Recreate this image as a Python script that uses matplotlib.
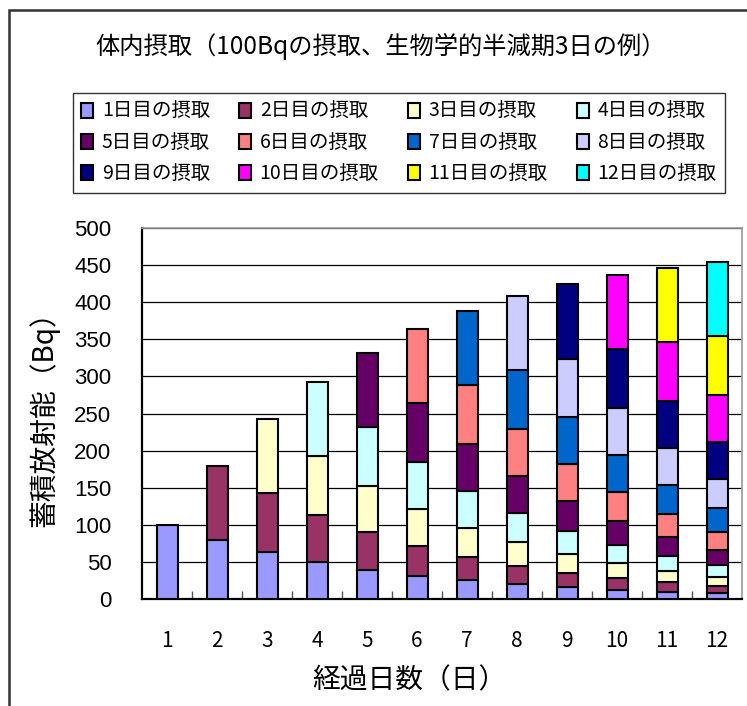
import matplotlib
matplotlib.use("Agg")
import matplotlib.pyplot as plt
from matplotlib.patches import Rectangle, Patch
import numpy as np

plt.rcParams['font.family'] = ['Noto Sans CJK JP', 'DejaVu Sans']

days = ['1', '2', '3', '4', '5', '6', '7', '8', '9', '10', '11', '12']
series_names = ['1日目の摂取', '2日目の摂取', '3日目の摂取', '4日目の摂取',
                '5日目の摂取', '6日目の摂取', '7日目の摂取', '8日目の摂取',
                '9日目の摂取', '10日目の摂取', '11日目の摂取', '12日目の摂取']
colors = ['#9999FF', '#993366', '#FFFFCC', '#CCFFFF', '#660066', '#FF8080',
          '#0066CC', '#CCCCFF', '#000080', '#FF00FF', '#FFFF00', '#00FFFF']

intake1 = [100, 79.4, 63.0, 50.0, 39.7, 31.5, 25.0, 19.8, 15.7, 12.5, 9.9, 7.9]
intake2 = [0, 100, 79.4, 63.0, 50.0, 39.7, 31.5, 25.0, 19.8, 15.7, 12.5, 9.9]
intake3 = [0, 0, 100, 79.4, 63.0, 50.0, 39.7, 31.5, 25.0, 19.8, 15.7, 12.5]
intake4 = [0, 0, 0, 100, 79.4, 63.0, 50.0, 39.7, 31.5, 25.0, 19.8, 15.7]
intake5 = [0, 0, 0, 0, 100, 79.4, 63.0, 50.0, 39.7, 31.5, 25.0, 19.8]
intake6 = [0, 0, 0, 0, 0, 100, 79.4, 63.0, 50.0, 39.7, 31.5, 25.0]
intake7 = [0, 0, 0, 0, 0, 0, 100, 79.4, 63.0, 50.0, 39.7, 31.5]
intake8 = [0, 0, 0, 0, 0, 0, 0, 100, 79.4, 63.0, 50.0, 39.7]
intake9 = [0, 0, 0, 0, 0, 0, 0, 0, 100, 79.4, 63.0, 50.0]
intake10 = [0, 0, 0, 0, 0, 0, 0, 0, 0, 100, 79.4, 63.0]
intake11 = [0, 0, 0, 0, 0, 0, 0, 0, 0, 0, 100, 79.4]
intake12 = [0, 0, 0, 0, 0, 0, 0, 0, 0, 0, 0, 100]
series = [intake1, intake2, intake3, intake4, intake5, intake6,
          intake7, intake8, intake9, intake10, intake11, intake12]

W, H = 747, 706
fig = plt.figure(figsize=(W / 100, H / 100), dpi=100)
ax = fig.add_axes([142 / W, 1 - 599 / H, 600 / W, 371 / H])

x = np.arange(1, len(days) + 1)
bottom = np.zeros(len(days))
handles = []
for vals, name, col in zip(series, series_names, colors):
    v = np.array(vals, dtype=float)
    mask = v > 0
    ax.bar(x[mask], v[mask], bottom=bottom[mask], width=0.42, color=col,
           edgecolor='black', linewidth=1.5, zorder=3)
    bottom += v
    handles.append(Patch(facecolor=col, edgecolor='black', linewidth=1.5, label=name))

ax.set_xlim(0.5, 12.5)
ax.set_ylim(0, 500)
ax.set_yticks(np.arange(0, 501, 50))
ax.yaxis.grid(True, color='black', linewidth=0.9, zorder=0)
ax.set_axisbelow(True)
ax.set_xticks(x)
ax.set_xticklabels(days, fontsize=15)
ax.set_xticks(np.arange(1.5, 12.5, 1), minor=True)
ax.tick_params(axis='x', which='major', length=0, pad=22)
ax.tick_params(axis='x', which='minor', direction='in', length=6, width=1, color='#555555')
ax.tick_params(axis='y', length=0, pad=22)
for lab in ax.get_yticklabels():
    lab.set_fontfamily(['Liberation Sans', 'DejaVu Sans'])
    lab.set_fontsize(16)

for s in ['left', 'bottom']:
    ax.spines[s].set_color('black')
    ax.spines[s].set_linewidth(1.6)
for s in ['top', 'right']:
    ax.spines[s].set_color('#999999')
    ax.spines[s].set_linewidth(1.2)

ax.set_xlabel('経過日数（日）', fontsize=20)
ax.xaxis.set_label_coords((409 - 142) / 600, -(680 - 599) / 371)
ax.xaxis.label.set_va('center')
ax.set_ylabel('蓄積放射能（Bq）', fontsize=20)
ax.yaxis.set_label_coords(-(142 - 44) / 600, (599 - 412) / 371)
ax.yaxis.label.set_va('center')

fig.text(381 / W, 1 - 47 / H, '体内摂取（100Bqの摂取、生物学的半減期3日の例）',
         ha='center', va='center', fontsize=17.5)

order = [0, 4, 8, 1, 5, 9, 2, 6, 10, 3, 7, 11]
leg = fig.legend([handles[i] for i in order], [series_names[i] for i in order],
                 ncol=4, loc='center', bbox_to_anchor=(399 / W, 1 - 143 / H),
                 fontsize=14, frameon=True, fancybox=False, edgecolor='black',
                 handlelength=0.6, handleheight=0.8, handletextpad=0.45,
                 columnspacing=1.5, labelspacing=0.52, borderpad=0.45)
leg.get_frame().set_linewidth(1.0)

fig.patches.append(Rectangle((9 / W, -0.1), 1.2, (H - 10) / H + 0.1,
                             transform=fig.transFigure, fill=False,
                             edgecolor='#333333', linewidth=1.8, clip_on=False))

fig.savefig('out.png', dpi=100)
